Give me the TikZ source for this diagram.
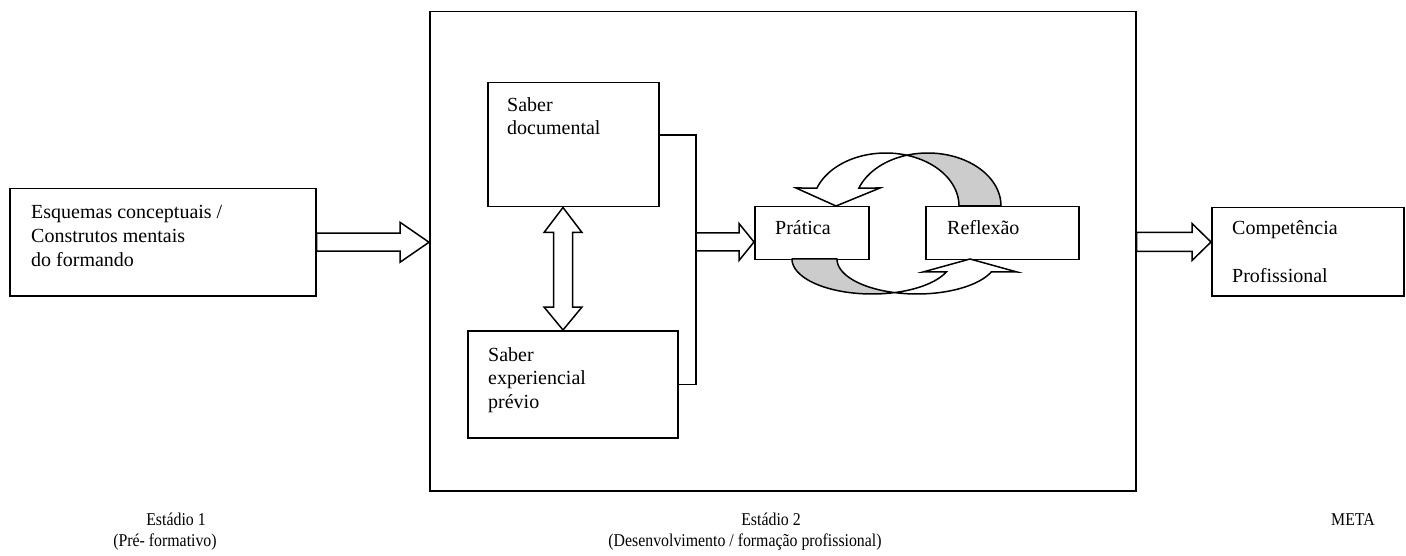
\documentclass[tikz,border=0pt]{standalone}
\usepackage{fontspec}
\setmainfont{Liberation Serif}
\usetikzlibrary{calc}
\definecolor{bandgray}{HTML}{CCCCCC}

% block arrow: start point, tip point (same height), shaft half-width, head half-width, head length
\newcommand\blockarr[5]{%
  \draw[blockarrow] ($(#1)+(0,-#3)$) -- ($(#2)+(-#5,-#3)$) -- ($(#2)+(-#5,-#4)$) -- (#2)
    -- ($(#2)+(-#5,#4)$) -- ($(#2)+(-#5,#3)$) -- ($(#1)+(0,#3)$) -- cycle;}

\begin{document}
\begin{tikzpicture}[x=1pt,y=-1pt,
  box/.style={draw, line width=1.5pt, inner sep=0pt, anchor=north west},
  txt/.style={anchor=base west, inner sep=0pt, font=\fontsize{20}{24}\selectfont},
  foot/.style={anchor=base, inner sep=0pt, font=\fontsize{18}{22}\selectfont},
  blockarrow/.style={draw, line width=1.5pt, fill=white, line join=miter},
  band/.style={draw, line width=1.5pt, fill=bandgray, line join=round},
  link/.style={draw, line width=1.5pt}]
\useasboundingbox (0,0) rectangle (1406,556);

% boxes
\node[box, minimum width=306pt, minimum height=107pt] (esq)   at (9,188)   {};
\node[box, minimum width=706pt, minimum height=479pt] (stage) at (429,11)  {};
\node[box, minimum width=171pt, minimum height=124pt] (doc)   at (487,82)  {};
\node[box, minimum width=210pt, minimum height=107pt] (exp)   at (467,330) {};
\node[box, minimum width=114pt, minimum height=53pt]  (prat)  at (754,206) {};
\node[box, minimum width=153pt, minimum height=53pt]  (refl)  at (925,206) {};
\node[box, minimum width=192pt, minimum height=88pt]  (comp)  at (1211,207) {};

% texts inside the boxes
\node[txt] (esq1) at (31,219)   {Esquemas conceptuais /};
\node[txt] (esq2) at (31,242.5) {Construtos mentais};
\node[txt] (esq3) at (31,266)   {do formando};
\node[txt] (doc1) at (507,112)  {Saber};
\node[txt] (doc2) at (507,135)  {documental};
\node[txt] (exp1) at (488,361)  {Saber};
\node[txt] (exp2) at (488,384.5){experiencial};
\node[txt] (exp3) at (488,408)  {prévio};
\node[txt] (prat1) at (775,235) {Prática};
\node[txt] (refl1) at (947,235) {Reflexão};
\node[txt] (comp1) at (1232,235){Competência};
\node[txt] (comp2) at (1232,283){Profissional};

% stage labels
\node[foot] (st1a) at (176,525) {\scalebox{0.88}[1]{Estádio 1}};
\node[foot] (st1b) at (165,546) {\scalebox{0.88}[1]{(Pré- formativo)}};
\node[foot] (st2a) at (771,525) {\scalebox{0.88}[1]{Estádio 2}};
\node[foot] (st2b) at (745,546) {\scalebox{0.88}[1]{(Desenvolvimento / formação profissional)}};
\node[foot] (st3)  at (1353,525){\scalebox{0.88}[1]{META}};

% connection points
\coordinate (a1) at (stage.west |- esq.east);
\coordinate (docout) at ($(doc.north east)+(0,53)$);
\coordinate (join) at (696,242);
\coordinate (a2) at (prat.west |- join);
\coordinate (sout) at ($(stage.north east)+(0,231)$);
\coordinate (a3) at (comp.west |- sout);
\coordinate (dtop) at ($(doc.south west)+(76,0)$);
\coordinate (dbot) at (dtop |- exp.north);

% bracket joining the two kinds of knowledge
\draw[link] (docout) -| (join) |- (exp.east);

% block arrows
\blockarr{esq.east}{a1}{9}{20}{29}
\blockarr{join}{a2}{9}{18.5}{15}
\blockarr{sout}{a3}{9.5}{18.5}{19}

% double arrow between the two boxes on the left
\draw[blockarrow] (dtop) -- ($(dtop)+(19,25)$) -- ($(dtop)+(9.5,25)$) -- ($(dbot)+(9.5,-23)$)
  -- ($(dbot)+(19,-23)$) -- (dbot) -- ($(dbot)+(-19,-23)$) -- ($(dbot)+(-9.5,-23)$)
  -- ($(dtop)+(-9.5,25)$) -- ($(dtop)+(-19,25)$) -- cycle;

% cycle between practice and reflection: upper curved arrow
\draw[band] plot[domain=106.67:0, samples=40] ({927.8+73.2*cos(\x)},{206-53*sin(\x)})
  -- plot[domain=0:73.33, samples=40] ({885.8+73.2*cos(\x)},{206-53*sin(\x)}) -- cycle;
\draw[blockarrow] plot[domain=73.33:160.15, samples=50] ({885.8+73.2*cos(\x)},{206-53*sin(\x)})
  -- (796,188) -- (836,206) -- (880,188)
  -- plot[domain=160.15:106.67, samples=30] ({927.8+73.2*cos(\x)},{206-53*sin(\x)}) -- cycle;

% lower curved arrow
\draw[band] plot[domain=180:73.67, samples=50] ({872+80*cos(\x)},{259+35*sin(\x)})
  -- plot[domain=106.33:180, samples=40] ({917+80*cos(\x)},{259+35*sin(\x)}) -- cycle;
\draw[blockarrow] plot[domain=73.67:21.8, samples=30] ({872+80*cos(\x)},{259+35*sin(\x)})
  -- (923,272) -- (970,259) -- (1017,272)
  -- plot[domain=21.8:106.33, samples=40] ({917+80*cos(\x)},{259+35*sin(\x)}) -- cycle;
\end{tikzpicture}
\end{document}
